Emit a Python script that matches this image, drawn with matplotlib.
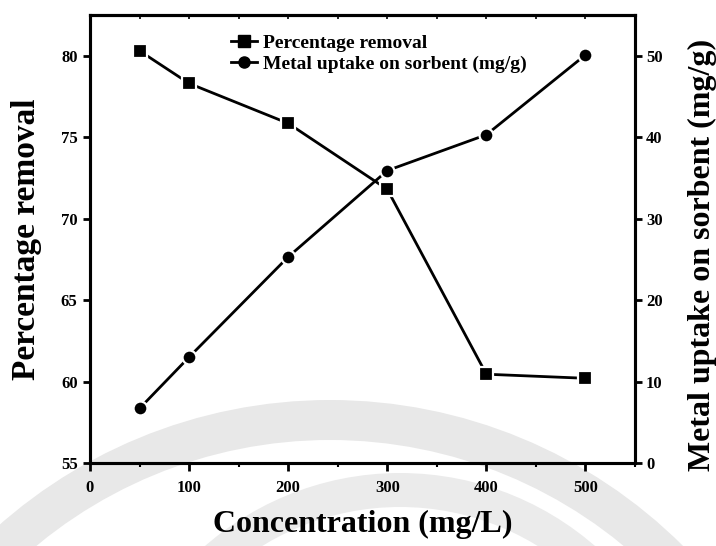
import matplotlib
matplotlib.use("Agg")
import matplotlib.pyplot as plt
from matplotlib.patches import Wedge
from matplotlib.lines import Line2D

plt.rcParams.update({
    "font.family": "Liberation Serif",
    "font.weight": "bold",
    "axes.labelweight": "bold",
})

# adsorption data vs initial concentration
conc = [50, 100, 200, 300, 400, 500]               # mg/L
removal = [80.3, 78.3, 75.85, 71.8, 60.45, 60.2]   # %
uptake = [6.7, 13.0, 25.3, 35.9, 40.3, 50.1]       # mg/g

x_ticks = [0, 100, 200, 300, 400, 500]
left_ticks = [55, 60, 65, 70, 75, 80]
right_ticks = [0, 10, 20, 30, 40, 50]

fig = plt.figure(figsize=(7.16, 5.46), dpi=100)

# faint background seal arcs (pixel coordinates)
bg = fig.add_axes([0, 0, 1, 1], zorder=0)
bg.set_xlim(0, 716)
bg.set_ylim(546, 0)
bg.axis("off")
bg.add_patch(Wedge((330, 900), 500, 180, 360, width=40, color="#e8e8e8", lw=0))
bg.add_patch(Wedge((400, 770), 297, 180, 360, width=34, color="#ebebeb", lw=0))

ax = fig.add_axes([90 / 716, 1 - 463 / 546, 545 / 716, 448 / 546], zorder=2)
ax.patch.set_visible(False)
ax2 = ax.twinx()
ax2.set_zorder(3)
ax2.patch.set_visible(False)

line_kw = dict(color="black", lw=2.0, markeredgecolor="white", markeredgewidth=1.6)
ax.plot(conc, removal, marker="s", ms=9.5, **line_kw)
ax2.plot(conc, uptake, marker="o", ms=10, **line_kw)

ax.set_xlim(0, 550)
ax.set_ylim(55, 82.5)
ax2.set_ylim(0, 55)
ax.set_xticks(x_ticks)
ax.set_xticks(range(50, 551, 100), minor=True)
ax.set_yticks(left_ticks)
ax2.set_yticks(right_ticks)

for a in (ax, ax2):
    for s in a.spines.values():
        s.set_linewidth(2.2)

ax.tick_params(axis="x", which="major", direction="out", length=6, width=2,
               labelsize=12, pad=6, top=False)
ax.tick_params(axis="x", which="minor", direction="out", length=3, width=1.5, top=False)
ax.tick_params(axis="y", which="major", direction="out", length=5, width=2,
               labelsize=12, pad=4)
ax2.tick_params(axis="y", which="major", direction="out", length=5, width=2,
                labelsize=12, pad=3)

top = ax.secondary_xaxis("top")
top.set_xticks(range(0, 551, 50))
top.tick_params(direction="in", length=3, width=1.2, labeltop=False)
top.spines["top"].set_linewidth(2.2)

for lab in ax.get_xticklabels() + ax.get_yticklabels() + ax2.get_yticklabels():
    lab.set_fontweight("bold")

ax.set_xlabel("Concentration (mg/L)", fontsize=23, fontweight="bold", va="center")
ax.xaxis.set_label_coords(0.5, -0.138)
ax.set_ylabel("Percentage removal", fontsize=24, fontweight="bold", va="center")
ax.yaxis.set_label_coords(-0.117, 0.5)
ax2.set_ylabel("Metal uptake on sorbent (mg/g)", fontsize=23, fontweight="bold",
               va="center", rotation=90)
ax2.yaxis.set_label_coords(1.123, 0.465)

handles = [
    Line2D([], [], color="black", lw=2, marker="s", ms=8),
    Line2D([], [], color="black", lw=2, marker="o", ms=8),
]
ax2.legend(handles, ["Percentage removal", "Metal uptake on sorbent (mg/g)"],
           loc="upper left", bbox_to_anchor=(0.245, 0.975), frameon=False,
           prop={"size": 14, "weight": "bold"}, handlelength=1.3,
           handletextpad=0.35, labelspacing=0.2, borderaxespad=0)

fig.savefig("out.png", dpi=100)
